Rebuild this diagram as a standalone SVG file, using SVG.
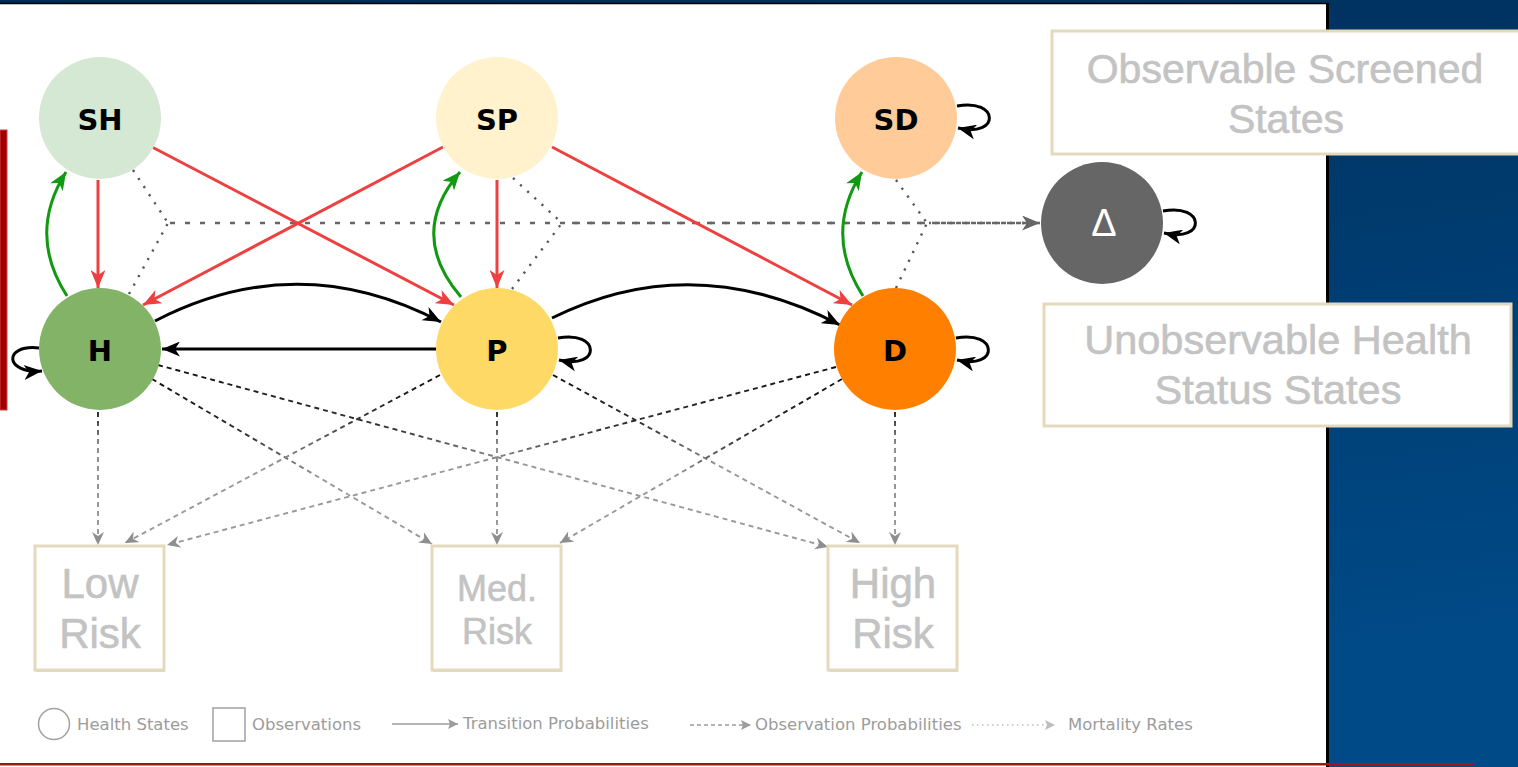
<svg xmlns="http://www.w3.org/2000/svg" width="1518" height="767" viewBox="0 0 1518 767">
  <style>
    .lbl { font-family: "DejaVu Sans", "Liberation Sans", sans-serif; font-weight: bold; font-size: 29px; fill: #000; text-anchor: middle; }
    .obs { fill: #fff; stroke: #e4dabb; stroke-width: 3; }
    .shadow { fill: #d9d9d9; }
    .obstxt { font-family: "Liberation Sans", Arial, sans-serif; fill: #c3c3c3; stroke: #c3c3c3; stroke-width: 0.6; text-anchor: middle; }
    .red { fill: none; stroke: #ee4040; stroke-width: 3; marker-end: url(#arRed); }
    .green { fill: none; stroke: #119911; stroke-width: 3; marker-end: url(#arGreen); }
    .black { fill: none; stroke: #000; stroke-width: 3; marker-end: url(#arBlack); }
    .dash { fill: none; stroke-width: 1.9; stroke-dasharray: 5 4; marker-end: url(#arGray); }
    .dot { fill: none; stroke: #555; stroke-width: 2.4; stroke-dasharray: 2.2 7.5; }
    .mort { fill: none; stroke: #666; stroke-width: 2.6; stroke-dasharray: 5 10; }
    .leg { font-family: "DejaVu Sans", "Liberation Sans", sans-serif; font-size: 16.5px; fill: #9c9c9c; }
  </style>
  <defs>
    <linearGradient id="panel" x1="0" y1="0" x2="0.25" y2="1">
      <stop offset="0" stop-color="#002c56"/>
      <stop offset="1" stop-color="#004a87"/>
    </linearGradient>
    <marker id="arRed" markerUnits="userSpaceOnUse" markerWidth="19" markerHeight="15" refX="18" refY="7.5" orient="auto">
      <path d="M0,0 L18,7.5 L0,15 L5,7.5 Z" fill="#ee4040"/>
    </marker>
    <marker id="arGreen" markerUnits="userSpaceOnUse" markerWidth="19" markerHeight="15" refX="18" refY="7.5" orient="auto">
      <path d="M0,0 L18,7.5 L0,15 L5,7.5 Z" fill="#119911"/>
    </marker>
    <marker id="arBlack" markerUnits="userSpaceOnUse" markerWidth="19" markerHeight="15" refX="18" refY="7.5" orient="auto">
      <path d="M0,0 L18,7.5 L0,15 L5,7.5 Z" fill="#000"/>
    </marker>
    <marker id="arGray" markerUnits="userSpaceOnUse" markerWidth="14" markerHeight="12" refX="13" refY="6" orient="auto">
      <path d="M0,0 L13,6 L0,12 L4,6 Z" fill="#8e8e8e"/>
    </marker>
    <marker id="arMort" markerUnits="userSpaceOnUse" markerWidth="19" markerHeight="15" refX="18" refY="7.5" orient="auto">
      <path d="M0,0 L18,7.5 L0,15 L5,7.5 Z" fill="#666"/>
    </marker>
    <marker id="arLeg" markerUnits="userSpaceOnUse" markerWidth="11" markerHeight="11" refX="10" refY="5" orient="auto">
      <path d="M0,0 L10,5 L0,10 L2,5 Z" fill="#9c9c9c"/>
    </marker>
    <marker id="arLegLight" markerUnits="userSpaceOnUse" markerWidth="11" markerHeight="11" refX="10" refY="5" orient="auto">
      <path d="M0,0 L10,5 L0,10 L2,5 Z" fill="#bdbdbd"/>
    </marker>
    <!-- observation probabilities fade from dark at the state to grey at the observation -->
    <linearGradient id="g1" gradientUnits="userSpaceOnUse" x1="98" y1="412" x2="98" y2="545"><stop offset="0" stop-color="#222"/><stop offset="0.25" stop-color="#8a8a8a"/><stop offset="1" stop-color="#999"/></linearGradient>
    <linearGradient id="g2" gradientUnits="userSpaceOnUse" x1="152" y1="379" x2="432" y2="544"><stop offset="0" stop-color="#111"/><stop offset="0.35" stop-color="#333"/><stop offset="0.6" stop-color="#999"/></linearGradient>
    <linearGradient id="g3" gradientUnits="userSpaceOnUse" x1="158" y1="365" x2="828" y2="547"><stop offset="0" stop-color="#111"/><stop offset="0.35" stop-color="#333"/><stop offset="0.55" stop-color="#999"/></linearGradient>
    <linearGradient id="g4" gradientUnits="userSpaceOnUse" x1="440" y1="375" x2="125" y2="543"><stop offset="0" stop-color="#111"/><stop offset="0.25" stop-color="#333"/><stop offset="0.55" stop-color="#999"/></linearGradient>
    <linearGradient id="g5" gradientUnits="userSpaceOnUse" x1="497" y1="412" x2="497" y2="545"><stop offset="0" stop-color="#222"/><stop offset="0.25" stop-color="#8a8a8a"/><stop offset="1" stop-color="#999"/></linearGradient>
    <linearGradient id="g6" gradientUnits="userSpaceOnUse" x1="553" y1="375" x2="860" y2="543"><stop offset="0" stop-color="#111"/><stop offset="0.3" stop-color="#333"/><stop offset="0.55" stop-color="#999"/></linearGradient>
    <linearGradient id="g7" gradientUnits="userSpaceOnUse" x1="836" y1="367" x2="167" y2="545"><stop offset="0" stop-color="#111"/><stop offset="0.35" stop-color="#333"/><stop offset="0.55" stop-color="#999"/></linearGradient>
    <linearGradient id="g8" gradientUnits="userSpaceOnUse" x1="842" y1="379" x2="560" y2="543"><stop offset="0" stop-color="#111"/><stop offset="0.35" stop-color="#333"/><stop offset="0.6" stop-color="#999"/></linearGradient>
    <linearGradient id="g9" gradientUnits="userSpaceOnUse" x1="895" y1="412" x2="895" y2="545"><stop offset="0" stop-color="#222"/><stop offset="0.25" stop-color="#8a8a8a"/><stop offset="1" stop-color="#999"/></linearGradient>
  </defs>

  <!-- slide frame -->
  <g id="frame">
    <rect x="0" y="0" width="1518" height="767" fill="url(#panel)"/>
    <rect x="0" y="4" width="1326" height="763" fill="#fff"/>
    <line x1="0" y1="3.5" x2="1328" y2="3.5" stroke="#000" stroke-width="1.5"/>
    <line x1="1327.5" y1="3" x2="1327.5" y2="767" stroke="#000" stroke-width="3"/>
    <rect x="0" y="763" width="1474" height="2.5" fill="#a11515"/>
    <rect x="0" y="130" width="7" height="280" fill="#a50000" stroke="#c24545" stroke-width="1"/>
  </g>

  <!-- legend boxes -->
  <g id="box-screened">
    <rect class="obs" x="1052" y="31" width="480" height="123"/>
    <text class="obstxt" font-size="41" x="1285" y="83">Observable Screened</text>
    <text class="obstxt" font-size="41" x="1286" y="133">States</text>
  </g>
  <g id="box-unobservable">
    <rect class="obs" x="1044" y="304" width="467" height="122"/>
    <text class="obstxt" font-size="41.5" x="1278" y="354">Unobservable Health</text>
    <text class="obstxt" font-size="41.5" x="1278" y="404">Status States</text>
  </g>

  <!-- connectors -->
  <g id="connectors">
    <!-- mortality rates -->
    <path class="dot" d="M133,170 L168,223"/>
    <path class="dot" d="M129,294 L168,223"/>
    <path class="dot" d="M513,178 L562,223"/>
    <path class="dot" d="M512,289 L562,223"/>
    <path class="dot" d="M896,180 L927,223"/>
    <path class="dot" d="M896,288 L927,223"/>
    <path class="mort" d="M170,223 L1024,223"/>
    <path class="mort" d="M564,223 L1024,223" stroke-dashoffset="7"/>
    <path class="mort" d="M929,223 L1024,223" stroke-dashoffset="3"/>
    <path fill="none" stroke="#666" stroke-width="2.6" d="M1022,223 L1040,223" marker-end="url(#arMort)"/>

    <!-- observation probabilities -->
    <path class="dash" stroke="url(#g1)" d="M98,412 L98,545"/>
    <path class="dash" stroke="url(#g2)" d="M152,379 L432,544"/>
    <path class="dash" stroke="url(#g3)" d="M158,365 L828,547"/>
    <path class="dash" stroke="url(#g4)" d="M440,375 L125,543"/>
    <path class="dash" stroke="url(#g5)" d="M497,412 L497,545"/>
    <path class="dash" stroke="url(#g6)" d="M553,375 L860,543"/>
    <path class="dash" stroke="url(#g7)" d="M836,367 L167,545"/>
    <path class="dash" stroke="url(#g8)" d="M842,379 L560,543"/>
    <path class="dash" stroke="url(#g9)" d="M895,412 L895,545"/>

    <!-- screening results -->
    <path class="red" d="M98,180 L98,288"/>
    <path class="red" d="M152,147 L454,305"/>
    <path class="red" d="M443,147 L143,305"/>
    <path class="red" d="M497,180 L497,288"/>
    <path class="red" d="M552,147 L852,305"/>

    <!-- return from screened states -->
    <path class="green" d="M67,296 Q27,234 66,172"/>
    <path class="green" d="M461,297 Q407,234 460,172"/>
    <path class="green" d="M863,296 Q823,234 862,172"/>

    <!-- transitions -->
    <path class="black" d="M155,321 Q298,247 441,322"/>
    <path class="black" d="M552,318 Q693,248 840,325"/>
    <path class="black" d="M436,349 L162,349"/>
    <path class="black" d="M39,348 C3,344 4,374 42,371"/>
    <path class="black" d="M558,338 C600,330 602,370 559,360"/>
    <path class="black" d="M956,338 C998,330 1000,370 957,360"/>
    <path class="black" d="M957,106 C999,98 1001,138 958,128"/>
    <path class="black" d="M1163,211 C1205,203 1207,243 1164,233"/>
  </g>

  <!-- health states -->
  <g id="node-SH"><circle cx="100" cy="118" r="61" fill="#d5e8d4"/><text class="lbl" x="100" y="130">SH</text></g>
  <g id="node-SP"><circle cx="497" cy="118" r="61" fill="#fff2cc"/><text class="lbl" x="497" y="130">SP</text></g>
  <g id="node-SD"><circle cx="896" cy="118" r="61" fill="#ffcc99"/><text class="lbl" x="896" y="130">SD</text></g>
  <g id="node-H"><circle cx="100" cy="349" r="61" fill="#82b366"/><text class="lbl" x="100" y="361">H</text></g>
  <g id="node-P"><circle cx="497" cy="349" r="61" fill="#ffd966"/><text class="lbl" x="497" y="361">P</text></g>
  <g id="node-D"><circle cx="895" cy="349" r="61" fill="#ff8000"/><text class="lbl" x="895" y="361">D</text></g>
  <g id="node-death"><circle cx="1102" cy="223" r="61" fill="#666"/><text x="1104" y="236" font-family="Liberation Sans, Arial, sans-serif" font-size="38" fill="#fff" text-anchor="middle">Δ</text></g>

  <!-- observations -->
  <g id="obs-low">
    <rect class="shadow" x="36" y="548" width="129" height="124"/>
    <rect class="obs" x="35" y="546" width="129" height="124"/>
    <text class="obstxt" font-size="42" x="100" y="598">Low</text>
    <text class="obstxt" font-size="42" x="100" y="648">Risk</text>
  </g>
  <g id="obs-med">
    <rect class="shadow" x="433" y="548" width="129" height="124"/>
    <rect class="obs" x="432" y="546" width="129" height="124"/>
    <text class="obstxt" font-size="36" x="497" y="601">Med.</text>
    <text class="obstxt" font-size="36" x="497" y="644">Risk</text>
  </g>
  <g id="obs-high">
    <rect class="shadow" x="829" y="548" width="129" height="124"/>
    <rect class="obs" x="828" y="546" width="129" height="124"/>
    <text class="obstxt" font-size="42" x="893" y="598">High</text>
    <text class="obstxt" font-size="42" x="893" y="648">Risk</text>
  </g>

  <!-- key -->
  <g id="key">
    <circle cx="54" cy="724" r="15.5" fill="none" stroke="#a0a0a0" stroke-width="1.5"/>
    <text class="leg" x="77" y="730">Health States</text>
    <rect x="213" y="708" width="32" height="33" fill="none" stroke="#a0a0a0" stroke-width="1.5"/>
    <text class="leg" x="252" y="730">Observations</text>
    <path d="M392,724 L458,724" stroke="#9c9c9c" stroke-width="1.5" fill="none" marker-end="url(#arLeg)"/>
    <text class="leg" x="463" y="729">Transition Probabilities</text>
    <path d="M690,725 L751,725" stroke="#9c9c9c" stroke-width="1.5" stroke-dasharray="4 3" fill="none" marker-end="url(#arLeg)"/>
    <text class="leg" x="755" y="730">Observation Probabilities</text>
    <path d="M972,725 L1055,725" stroke="#bdbdbd" stroke-width="1.5" stroke-dasharray="1.5 3.5" fill="none" marker-end="url(#arLegLight)"/>
    <text class="leg" x="1068" y="730">Mortality Rates</text>
  </g>
</svg>
